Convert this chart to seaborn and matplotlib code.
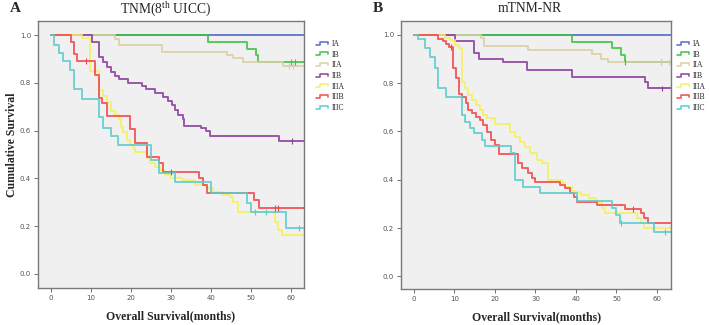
import matplotlib
matplotlib.use("Agg")
import matplotlib.pyplot as plt
from matplotlib.legend_handler import HandlerBase
from matplotlib.lines import Line2D
import seaborn as sns
import pandas as pd
import numpy as np

# groups and colours
groups = ['IA', 'IB', 'IIA', 'IIB', 'IIIA', 'IIIB', 'IIIC']
colors = ['#5068c8', '#3fbf44', '#d9d0a3', '#8a3c9c', '#f6f05c', '#f0474a', '#5ccbcc']
x_ticks = [0, 10, 20, 30, 40, 50, 60]
y_ticks = [0.0, 0.2, 0.4, 0.6, 0.8, 1.0]
end_month = 63.5

# ---- Panel A : TNM (8th UICC) ----  (event times in months, survival after each event)
a_IA_t = [0]
a_IA_s = [1.0]
a_IA_c = []
a_IB_t = [0, 39.2, 48.9, 51.3, 51.9]
a_IB_s = [1.0, 0.972, 0.944, 0.918, 0.889]
a_IB_c = [60.0, 61.0]
a_IIA_t = [0, 16.0, 17.0, 27.8, 43.9, 45.6, 48.0, 58.0]
a_IIA_s = [1.0, 0.986, 0.958, 0.930, 0.918, 0.906, 0.887, 0.870]
a_IIA_c = [59.5, 60.5]
a_IIB_t = [0, 10.2, 12.1, 13.1, 14.1, 15.0, 16.0, 17.0, 19.3, 22.7, 23.7, 26.0, 28.1, 29.3, 30.2,
           31.0, 31.8, 32.9, 33.2, 37.5, 38.7, 39.7, 57.0]
a_IIB_s = [1.0, 0.972, 0.909, 0.888, 0.868, 0.847, 0.828, 0.815, 0.798, 0.787, 0.773, 0.759, 0.742,
           0.725, 0.707, 0.686, 0.665, 0.647, 0.621, 0.610, 0.597, 0.577, 0.556]
a_IIB_c = [60.2]
a_IIIA_t = [0, 7.7, 9.7, 12.1, 13.1, 14.1, 15.0, 16.0, 17.0, 17.6, 18.1, 18.9, 19.8, 20.4, 21.0, 23.9,
            24.75, 26.0, 27.25, 28.5, 29.75, 32.8, 36.0, 39.0, 40.6, 42.7, 44.75, 45.6, 46.8, 55.6,
            56.0, 56.8, 57.9]
a_IIIA_s = [1.0, 0.989, 0.850, 0.770, 0.745, 0.720, 0.682, 0.665, 0.649, 0.616, 0.596, 0.561, 0.540,
            0.527, 0.510, 0.484, 0.463, 0.449, 0.435, 0.414, 0.400, 0.393, 0.372, 0.358, 0.344, 0.330,
            0.324, 0.303, 0.260, 0.254, 0.219, 0.184, 0.163]
a_IIIA_c = []
a_IIIB_t = [0, 4.9, 5.75, 6.6, 11.0, 12.0, 12.7, 13.9, 19.75, 21.0, 23.9, 27.1, 28.1, 37.0, 38.1,
            38.9, 50.75, 52.1]
a_IIIB_s = [1.0, 0.972, 0.923, 0.891, 0.833, 0.738, 0.714, 0.662, 0.605, 0.547, 0.491, 0.463, 0.428,
            0.400, 0.372, 0.338, 0.310, 0.275]
a_IIIB_c = [8.75, 29.9, 56.0, 56.8]
a_IIIC_t = [0, 0.8, 2.1, 3.1, 4.75, 5.75, 7.7, 12.0, 13.1, 15.0, 16.8, 25.0, 27.1, 31.0, 40.0, 49.1,
            49.9, 58.9]
a_IIIC_s = [1.0, 0.961, 0.926, 0.891, 0.854, 0.773, 0.732, 0.658, 0.612, 0.577, 0.540, 0.477, 0.421,
            0.386, 0.340, 0.298, 0.260, 0.191]
a_IIIC_c = [51.0, 53.9, 62.0]

# ---- Panel B : mTNM-NR ----
b_IA_t = [0]
b_IA_s = [1.0]
b_IA_c = []
b_IB_t = [0, 39.1, 48.9, 51.2, 52.0]
b_IB_s = [1.0, 0.972, 0.944, 0.916, 0.888]
b_IB_c = [52.1, 61.1]
b_IIA_t = [0, 16.6, 17.2, 28.1, 43.9, 46.2, 48.0]
b_IIA_s = [1.0, 0.988, 0.953, 0.937, 0.919, 0.902, 0.888]
b_IIA_c = [61.1, 63.0]
b_IIB_t = [0, 10.1, 14.9, 16.1, 22.1, 28.0, 39.1, 57.1, 57.9]
b_IIB_s = [1.0, 0.975, 0.926, 0.902, 0.887, 0.854, 0.826, 0.806, 0.778]
b_IIB_c = [61.2]
b_IIIA_t = [0, 7.7, 8.9, 10.1, 11.2, 11.8, 12.7, 13.4, 14.3, 15.3, 16.3, 17.1, 18.0, 20.0, 23.7, 25.0,
            26.2, 27.4, 28.7, 30.3, 31.6, 33.0, 36.5, 37.3, 39.0, 39.8, 41.3, 43.1, 44.9, 46.4, 47.2,
            55.0, 56.1, 56.9]
b_IIIA_s = [1.0, 0.988, 0.978, 0.960, 0.944, 0.806, 0.778, 0.750, 0.730, 0.709, 0.688, 0.668, 0.654,
            0.633, 0.599, 0.578, 0.557, 0.537, 0.509, 0.482, 0.468, 0.399, 0.385, 0.371, 0.355, 0.348,
            0.337, 0.323, 0.309, 0.282, 0.261, 0.240, 0.220, 0.199]
b_IIIA_c = []
b_IIIB_t = [0, 6.0, 7.1, 7.9, 8.7, 9.7, 10.4, 11.2, 11.8, 12.9, 13.4, 14.3, 15.3, 16.3, 17.1, 18.1,
            19.0, 20.0, 21.0, 25.6, 26.6, 28.1, 29.1, 29.9, 36.1, 37.3, 38.6, 39.4, 40.2, 45.2, 52.2,
            56.1, 56.9, 57.9]
b_IIIB_s = [1.0, 0.985, 0.974, 0.964, 0.950, 0.861, 0.820, 0.757, 0.743, 0.716, 0.688, 0.675, 0.661,
            0.647, 0.626, 0.599, 0.564, 0.544, 0.505, 0.468, 0.447, 0.427, 0.406, 0.392, 0.378, 0.364,
            0.344, 0.330, 0.309, 0.295, 0.278, 0.261, 0.240, 0.222]
b_IIIB_c = [9.1, 54.2]
b_IIIC_t = [0, 1.1, 2.7, 4.0, 5.2, 6.0, 7.9, 11.8, 12.6, 13.8, 14.7, 16.7, 17.6, 23.9, 25.0, 27.0,
            31.1, 40.2, 49.0, 49.9, 50.9, 59.2]
b_IIIC_s = [1.0, 0.985, 0.944, 0.909, 0.861, 0.778, 0.743, 0.668, 0.640, 0.613, 0.592, 0.564, 0.541,
            0.509, 0.399, 0.371, 0.344, 0.313, 0.282, 0.254, 0.220, 0.185]
b_IIIC_c = [51.2, 62.0]

panel_a = [(a_IA_t, a_IA_s, a_IA_c), (a_IB_t, a_IB_s, a_IB_c), (a_IIA_t, a_IIA_s, a_IIA_c),
           (a_IIB_t, a_IIB_s, a_IIB_c), (a_IIIA_t, a_IIIA_s, a_IIIA_c), (a_IIIB_t, a_IIIB_s, a_IIIB_c),
           (a_IIIC_t, a_IIIC_s, a_IIIC_c)]
panel_b = [(b_IA_t, b_IA_s, b_IA_c), (b_IB_t, b_IB_s, b_IB_c), (b_IIA_t, b_IIA_s, b_IIA_c),
           (b_IIB_t, b_IIB_s, b_IIB_c), (b_IIIA_t, b_IIIA_s, b_IIIA_c), (b_IIIB_t, b_IIIB_s, b_IIIB_c),
           (b_IIIC_t, b_IIIC_s, b_IIIC_c)]


def tidy(panel):
    # curves extended to the end of follow-up, plus censor marks on the curve
    lines, marks = [], []
    for g, (t, s, c) in zip(groups, panel):
        lines.append(pd.DataFrame({'time': t + [end_month], 'surv': s + [s[-1]], 'group': g}))
        if c:
            idx = np.searchsorted(t, c, side='right') - 1
            marks.append(pd.DataFrame({'time': c, 'surv': np.array(s)[idx], 'group': g}))
    return pd.concat(lines, ignore_index=True), pd.concat(marks, ignore_index=True)


class StepHandler(HandlerBase):
    # little step glyph like the SPSS legend
    def create_artists(self, legend, orig, xd, yd, w, h, fontsize, trans):
        x = [-xd, -xd + 0.3 * w, -xd + 0.3 * w, -xd + w, -xd + w]
        y = [-yd + 0.25 * h, -yd + 0.25 * h, -yd + 0.8 * h, -yd + 0.8 * h, -yd + 0.45 * h]
        ln = Line2D(x, y, color=orig.get_color(), lw=1.2, alpha=0.9, transform=trans)
        return [ln]


sns.set_style('white')
plt.rcParams['mathtext.fontset'] = 'custom'
plt.rcParams['mathtext.rm'] = 'Liberation Serif'
serif = 'Liberation Serif'
palette = dict(zip(groups, colors))

fig = plt.figure(figsize=(7.09, 3.25), dpi=100)
axA = fig.add_axes([0.0536, 0.114, 0.375, 0.821])
axB = fig.add_axes([0.5656, 0.111, 0.381, 0.824])

settings = [
    (axA, panel_a, 'TNM(8$^{\\rm th}$ UICC)', 'A', (-3.25, 63.25), (-0.059, 1.059), 0.446, 0.48),
    (axB, panel_b, 'mTNM-NR', 'B', (-3.2, 63.5), (-0.052, 1.057), 0.955, 0.478),
]

for ax, panel, title, letter, xl, yl, leg_x, title_x in settings:
    ax.set_facecolor('#f0f0f0')
    df_lines, df_marks = tidy(panel)
    sns.lineplot(data=df_lines, x='time', y='surv', hue='group', palette=palette,
                 drawstyle='steps-post', estimator=None, sort=False, linewidth=1.4,
                 alpha=0.85, legend=False, ax=ax)
    sns.scatterplot(data=df_marks, x='time', y='surv', hue='group', palette=palette,
                    marker='|', s=18, linewidth=0.8, legend=False, ax=ax, zorder=5)
    ax.set_xlim(*xl)
    ax.set_ylim(*yl)
    ax.set_xticks(x_ticks)
    ax.set_yticks(y_ticks)
    ax.set_yticklabels([f'{v:.1f}' for v in y_ticks])
    ax.tick_params(axis='both', direction='out', length=3, width=0.6, colors='#555555',
                   labelsize=5, pad=2, bottom=True, left=True)
    for sp in ax.spines.values():
        sp.set_color('#7a7a7a')
        sp.set_linewidth(1.0)
    ax.set_xlabel('Overall Survival(months)', fontsize=8.5, fontweight='bold', family=serif,
                  va='center')
    ax.xaxis.set_label_coords(0.5, -0.105)
    ax.set_ylabel('')
    ax.text(title_x, 1.049, title, transform=ax.transAxes, fontsize=9.8, family=serif,
            ha='center', va='center')
    ax.text(-0.085, 1.049, letter, transform=ax.transAxes, fontsize=11, fontweight='bold',
            family=serif, ha='center', va='center')
    handles = [Line2D([], [], color=c) for c in colors]
    fig.legend(handles, groups, loc='upper left', bbox_to_anchor=(leg_x, 0.877), frameon=False,
               borderpad=0, borderaxespad=0, handlelength=1.6, handletextpad=0.5, labelspacing=0.35,
               prop={'family': serif, 'size': 5.5},
               handler_map={Line2D: StepHandler()})

fig.text(0.017, 0.555, 'Cumulative Survival', rotation=90, fontsize=8.5, fontweight='bold',
         family=serif, ha='center', va='center')

fig.savefig('out.png', dpi=100)
